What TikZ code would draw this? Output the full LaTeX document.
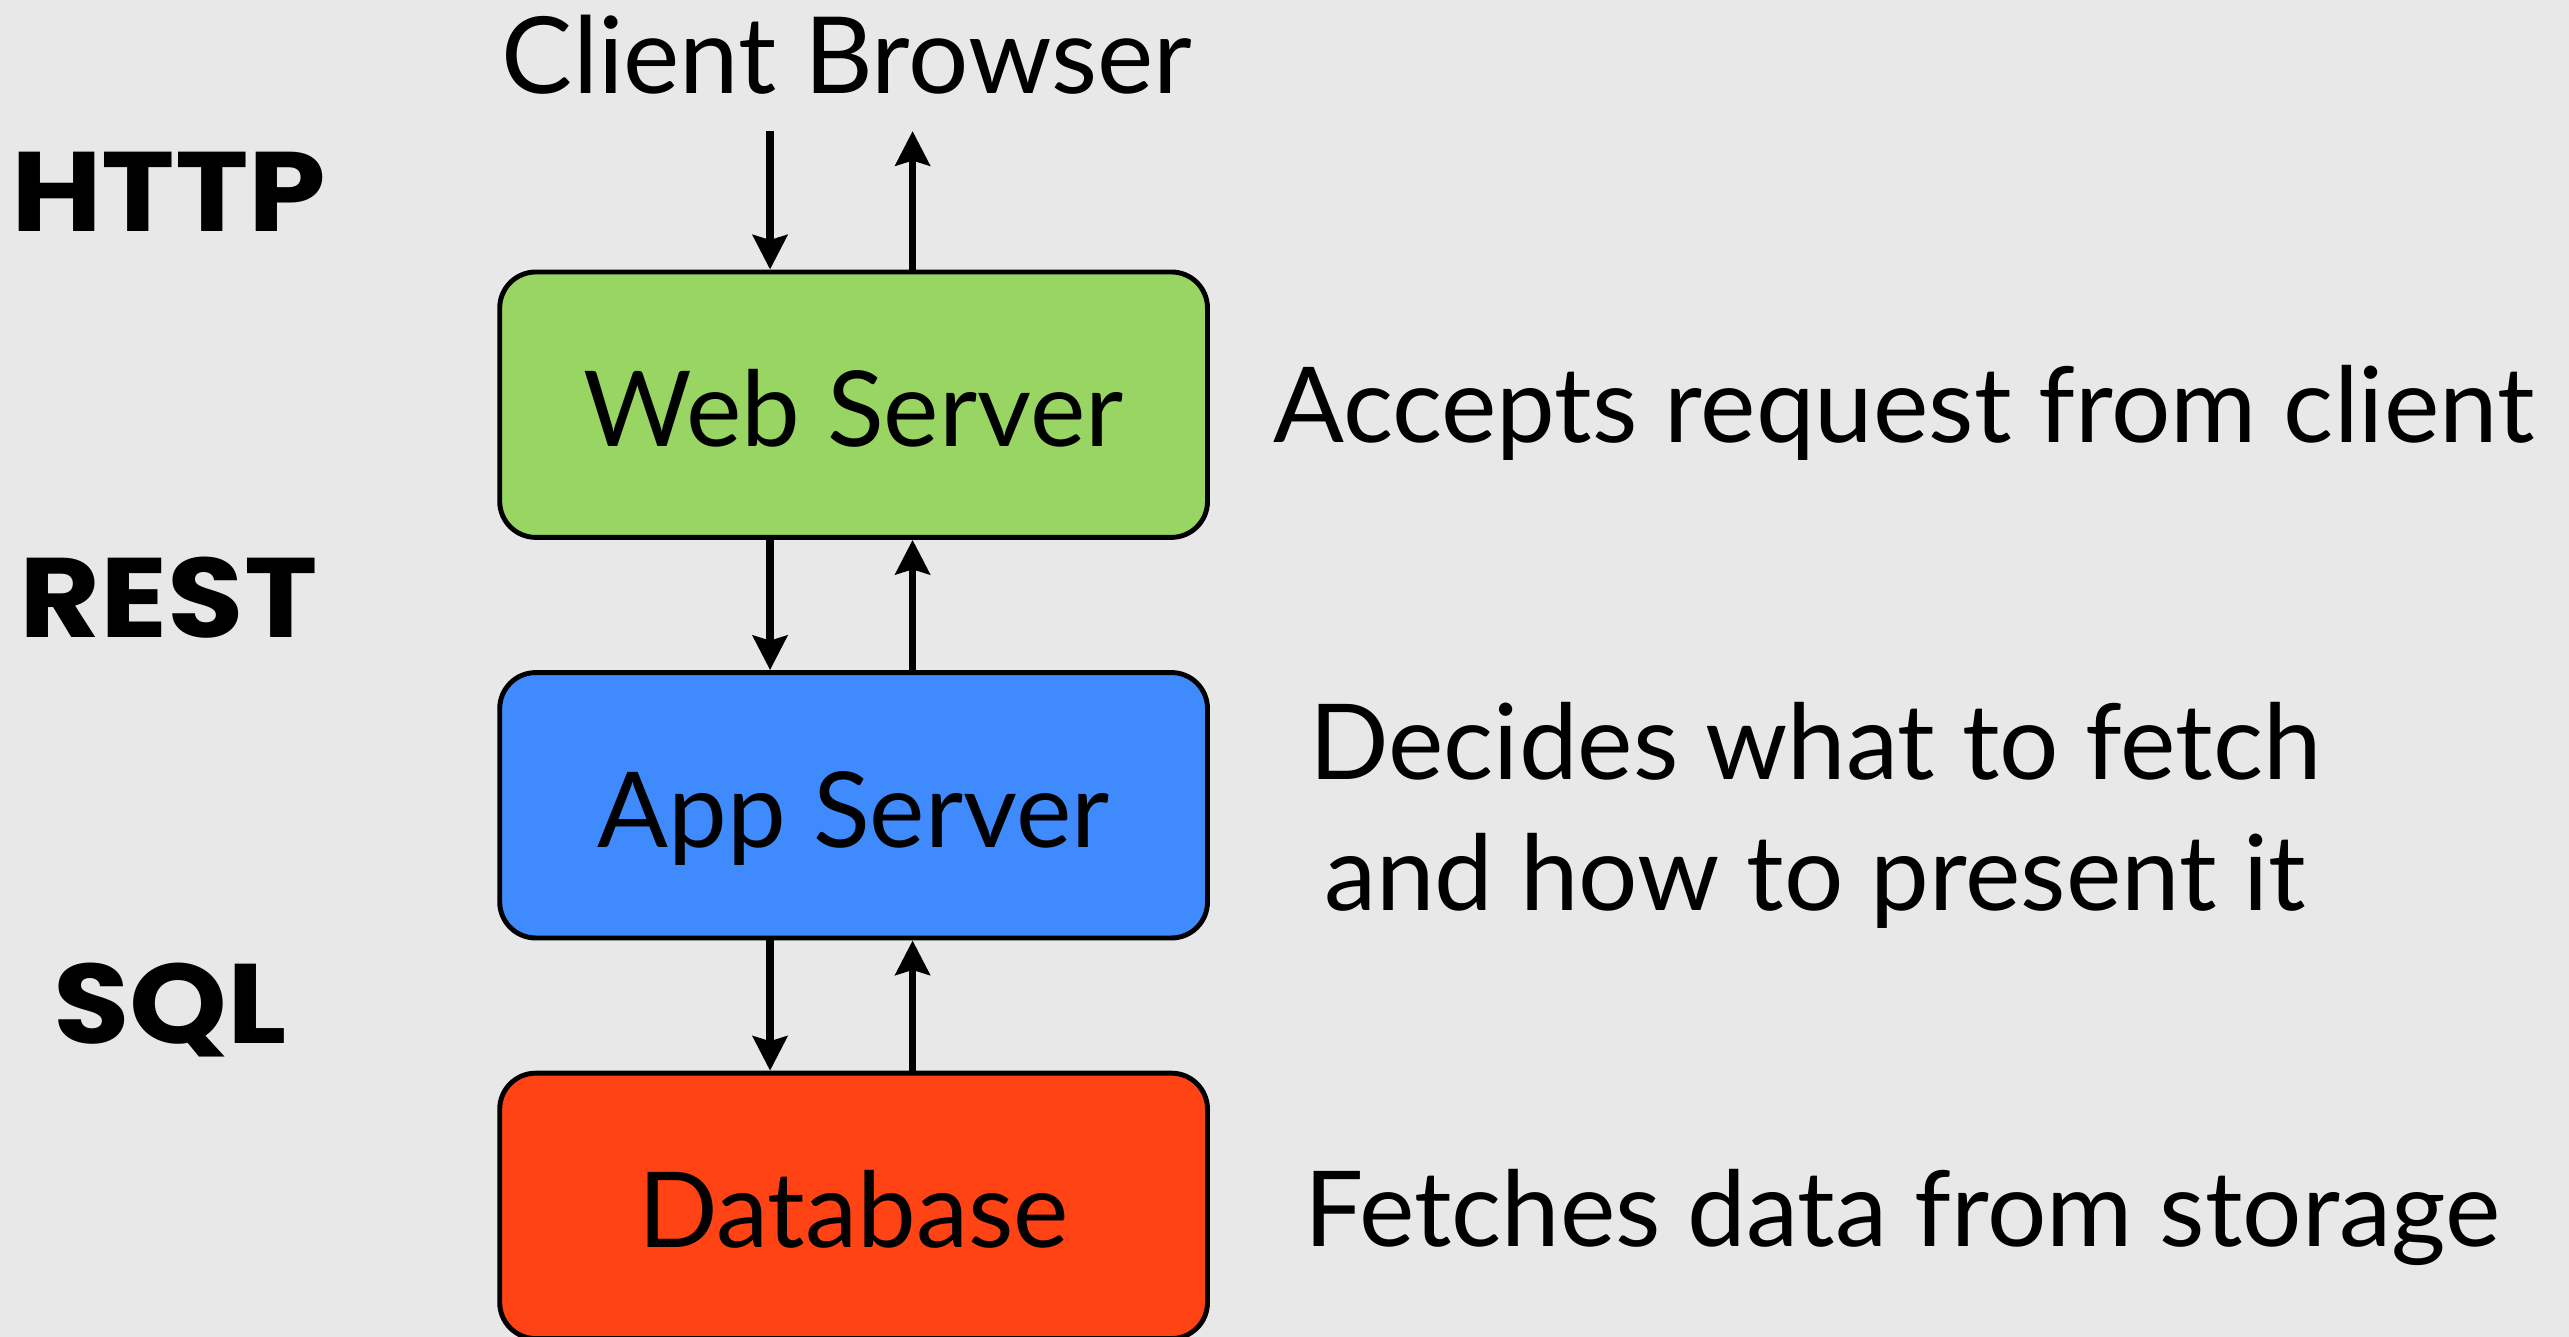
\documentclass[tikz,border=0pt]{standalone}
\usepackage{fontspec}
\setmainfont{Lato}
\newfontfamily\protofont{Poppins}[FakeStretch=1.1]
\usetikzlibrary{arrows.meta}
\definecolor{pagebg}{RGB}{232,232,232}
\definecolor{webgreen}{RGB}{152,213,98}
\definecolor{appblue}{RGB}{63,139,253}
\definecolor{dbred}{RGB}{255,67,20}
\begin{document}
\begin{tikzpicture}[x=1pt,y=-1pt,
  tier/.style={draw=black,line width=3pt,rounded corners=22pt,
    minimum width=432pt,minimum height=162pt,inner sep=0pt,
    font=\fontsize{64}{70}\selectfont,text height=51pt,text depth=0pt},
  proto/.style={anchor=base,font=\protofont\bfseries\fontsize{69}{70}\selectfont},
  note/.style={anchor=base,align=center,font=\fontsize{64}{80}\selectfont},
  flow/.style={line width=4.5pt,-{Stealth[length=21pt,width=21pt,inset=3pt]}}]
\useasboundingbox (0,0) rectangle (1568,816);
\fill[pagebg] (0,0) rectangle (1568,816);
\clip (0,0) rectangle (1568,816);

% tiers
\node[tier,fill=webgreen] (web) at (521,247) {Web Server};
\node[tier,fill=appblue]  (app) at (521,491.5) {App Server};
\node[tier,fill=dbred]    (db)  at (521,736) {Database};

% client
\node[anchor=base,font=\fontsize{65}{70}\selectfont] (client) at (517,57) {Client Browser};
\coordinate (cin)  at (470,80);
\coordinate (cout) at (557,80);

% protocol labels
\node[proto] (http) at (103,141) {HTTP};
\node[proto] (rest) at (103,389) {REST};
\node[proto] (sql)  at (104,637) {SQL};

% descriptions
\node[note] (d1) at (1162,270) {Accepts request from client};
\node[note,anchor=north] (d2) at (1108,425) {Decides what to fetch\\and how to present it};
\node[note] (d3) at (1161,761) {Fetches data from storage};

% request / response arrows
\draw[flow] (cin) -- (cin |- web.north);
\draw[flow] (web.north -| cout) -- (cout);
\draw[flow] (web.south -| cin) -- (app.north -| cin);
\draw[flow] (app.north -| cout) -- (web.south -| cout);
\draw[flow] (app.south -| cin) -- (db.north -| cin);
\draw[flow] (db.north -| cout) -- (app.south -| cout);
\end{tikzpicture}
\end{document}
